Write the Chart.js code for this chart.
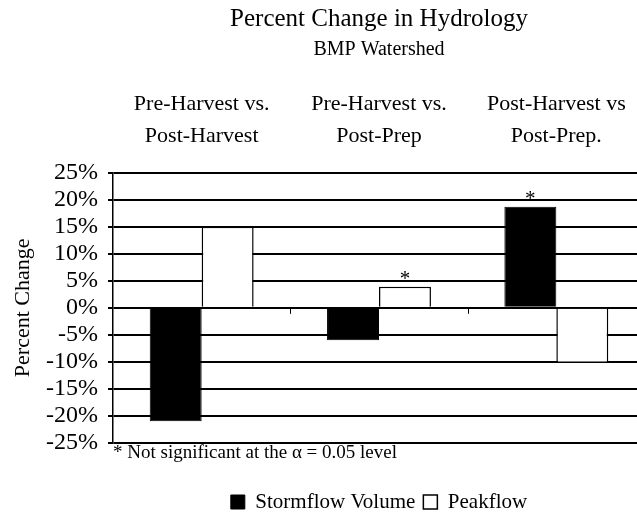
<!DOCTYPE html>
<html>
<head>
<meta charset="utf-8">
<script src="https://cdn.jsdelivr.net/npm/chart.js@4"></script>
<style>
    html, body { margin: 0; padding: 0; background: #fff; overflow: hidden; }
    #wrap { width: 650px; height: 518px; }
</style>
</head>
<body>
<div id="wrap"><canvas id="hydroChart" width="650" height="518"></canvas></div>
<script>
const categories = [
    ['Pre-Harvest vs.', 'Post-Harvest'],
    ['Pre-Harvest vs.', 'Post-Prep'],
    ['Post-Harvest vs', 'Post-Prep.']
];
const stormflowVolume = [-21.0, -6.0, 18.7];
const peakflow = [15.0, 3.9, -10.2];
// bars marked with an asterisk (not significant)
const stormflowNotSig = [false, false, true];
const peakflowNotSig = [false, true, false];
const footnote = '* Not significant at the \u03b1 = 0.05 level';

Chart.defaults.font.family = "'Liberation Serif', 'Times New Roman', serif";
Chart.defaults.color = '#000';

const hydroExtras = {
    id: 'hydroExtras',
    afterDatasetsDraw(chart) {
        const ctx = chart.ctx;
        const flags = [stormflowNotSig, peakflowNotSig];
        ctx.save();
        ctx.font = "21px 'Liberation Serif'";
        ctx.fillStyle = '#000';
        ctx.textAlign = 'center';
        ctx.textBaseline = 'alphabetic';
        flags.forEach((f, di) => {
            chart.getDatasetMeta(di).data.forEach((bar, i) => {
                if (f[i]) ctx.fillText('*', bar.x, Math.min(bar.y, bar.base) - 2);
            });
        });

        // little tick marks on the zero line between the groups
        const x = chart.scales.x;
        const y0 = chart.scales.y.getPixelForValue(0);
        ctx.strokeStyle = '#000';
        ctx.lineWidth = 1;
        for (let i = 1; i < categories.length; i++) {
            const px = Math.round((x.getPixelForValue(i - 1) + x.getPixelForValue(i)) / 2) + 0.5;
            ctx.beginPath();
            ctx.moveTo(px, y0);
            ctx.lineTo(px, y0 + 6);
            ctx.stroke();
        }
        ctx.restore();
    }
};

const ctx = document.getElementById('hydroChart').getContext('2d');
new Chart(ctx, {
    type: 'bar',
    data: {
        labels: categories,
        datasets: [{
            label: 'Stormflow Volume',
            data: stormflowVolume,
            backgroundColor: '#000',
            borderColor: '#000',
            borderWidth: 1
        }, {
            label: 'Peakflow',
            data: peakflow,
            backgroundColor: '#fff',
            borderColor: '#000',
            borderWidth: 1.5
        }]
    },
    options: {
        responsive: false,
        animation: false,
        layout: { padding: { right: 5 } },
        datasets: {
            bar: { categoryPercentage: 0.586, barPercentage: 1 }
        },
        scales: {
            x: {
                position: 'top',
                grid: { display: false, drawTicks: false },
                border: { display: false },
                ticks: {
                    font: { size: 22, lineHeight: '32px' },
                    padding: 20,
                    maxRotation: 0,
                    autoSkip: false
                },
                afterFit: s => { s.height = 110.6; }
            },
            xNote: {
                type: 'category',
                position: 'bottom',
                grid: { display: false, drawTicks: false },
                border: { display: false },
                ticks: { display: false },
                title: {
                    display: true,
                    text: footnote,
                    align: 'start',
                    font: { size: 19 },
                    padding: { top: 0, bottom: 19 }
                },
                afterFit: s => { s.height = 40.5; }
            },
            y: {
                min: -25,
                max: 25,
                ticks: {
                    stepSize: 5,
                    autoSkip: false,
                    callback: v => v + '%',
                    font: { size: 24 },
                    padding: 10
                },
                grid: { color: '#000', lineWidth: 2, tickLength: 5 },
                border: { display: true, color: '#000', width: 1.5 },
                title: {
                    display: true,
                    text: 'Percent Change',
                    font: { size: 22 },
                    padding: { top: 10, bottom: 0 }
                },
                afterFit: s => { s.width = 113; }
            }
        },
        plugins: {
            title: {
                display: true,
                text: 'Percent Change in Hydrology',
                fullSize: false,
                font: { size: 25, weight: 'normal' },
                padding: { top: 4, bottom: 0 }
            },
            subtitle: {
                display: true,
                text: 'BMP Watershed',
                fullSize: false,
                font: { size: 20 },
                padding: { top: 4, bottom: 0 }
            },
            legend: {
                position: 'bottom',
                fullSize: false,
                maxHeight: 34.5,
                labels: {
                    font: { size: 21 },
                    boxWidth: 14,
                    boxHeight: 14,
                    padding: 8
                }
            },
            tooltip: { enabled: false }
        }
    },
    plugins: [hydroExtras]
});
</script>
</body>
</html>
